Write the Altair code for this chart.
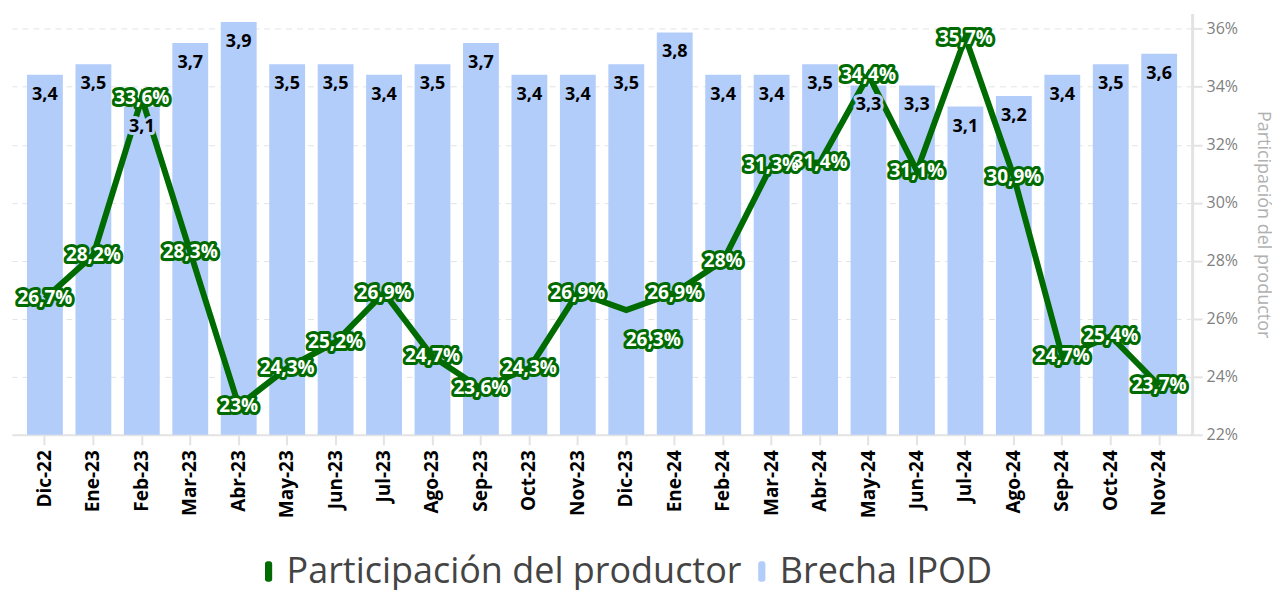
import altair as alt
import pandas as pd

meses = ["Dic-22", "Ene-23", "Feb-23", "Mar-23", "Abr-23", "May-23", "Jun-23", "Jul-23",
         "Ago-23", "Sep-23", "Oct-23", "Nov-23", "Dic-23", "Ene-24", "Feb-24", "Mar-24",
         "Abr-24", "May-24", "Jun-24", "Jul-24", "Ago-24", "Sep-24", "Oct-24", "Nov-24"]
brecha = [3.4, 3.5, 3.1, 3.7, 3.9, 3.5, 3.5, 3.4, 3.5, 3.7, 3.4, 3.4,
          3.5, 3.8, 3.4, 3.4, 3.5, 3.3, 3.3, 3.1, 3.2, 3.4, 3.5, 3.6]
participacion = [26.7, 28.2, 33.6, 28.3, 23.0, 24.3, 25.2, 26.9, 24.7, 23.6, 24.3, 26.9,
                 26.3, 26.9, 28.0, 31.3, 31.4, 34.4, 31.1, 35.7, 30.9, 24.7, 25.4, 23.7]
ticks_pct = [22, 24, 26, 28, 30, 32, 34, 36]
series = ["Participación del productor", "Brecha IPOD"]

GREEN = "#006b00"
BLUE = "#b3cdfb"
FONT = "Open Sans"

df = pd.DataFrame({"mes": meses, "brecha": brecha, "part": participacion})

x = alt.X(
    "mes:N", sort=meses, title=None,
    scale=alt.Scale(paddingInner=0.26, paddingOuter=0.31),
    axis=alt.Axis(labelAngle=-90, labelFontWeight="bold", labelFontSize=19, labelColor="#000",
                  labelFont=FONT, domainColor="#e3e3e3", domainWidth=2, tickColor="#e3e3e3",
                  tickWidth=2, tickSize=10, labelPadding=5, labelBaseline="middle", labelAlign="right"),
)

ybar_scale = alt.Scale(domain=[0, 3.98], nice=False, zero=True)
yline_scale = alt.Scale(domain=[22, 36.53], nice=False, zero=False)

base = alt.Chart(df)

bars = base.mark_bar().transform_calculate(serie="'Brecha IPOD'").encode(
    x=x,
    y=alt.Y("brecha:Q", scale=ybar_scale, axis=None),
    color=alt.Color(
        "serie:N",
        scale=alt.Scale(domain=series, range=[GREEN, BLUE]),
        legend=alt.Legend(
            title=None, orient="none", direction="horizontal", legendX=239, legendY=541,
            symbolType="M-0.35,-0.75 A0.25,0.25 0 0 1 -0.1,-1 L0.1,-1 A0.25,0.25 0 0 1 0.35,-0.75 L0.35,0.75 A0.25,0.25 0 0 1 0.1,1 L-0.1,1 A0.25,0.25 0 0 1 -0.35,0.75 Z",
            symbolSize=420, symbolStrokeWidth=0, labelFontSize=36, labelFont=FONT,
            labelColor="#444", columnPadding=2, labelOffset=0, labelLimit=600,
        ),
    ),
)

bar_lab = "replace(format(datum.brecha, '.1f'), '.', ',')"

bar_halo = base.mark_text(dy=20, fontWeight="bold", fontSize=18, font=FONT, fill=BLUE, stroke=BLUE,
                          strokeWidth=6, strokeJoin="round").transform_calculate(lab=bar_lab).encode(
    x=x,
    y=alt.Y("brecha:Q", scale=ybar_scale, axis=None),
    text="lab:N",
)

bar_text = base.mark_text(dy=20, fontWeight="bold", fontSize=18, font=FONT, color="#000").transform_calculate(
    lab=bar_lab
).encode(
    x=x,
    y=alt.Y("brecha:Q", scale=ybar_scale, axis=None),
    text="lab:N",
)

line = base.mark_line(color=GREEN, strokeWidth=6).encode(
    x=x,
    y=alt.Y(
        "part:Q", scale=yline_scale,
        axis=alt.Axis(
            orient="right", values=ticks_pct, labelExpr="datum.value + '%'",
            title="Participación del productor", titleColor="#b0b0b0", titleFontSize=18,
            titleFont=FONT, titleFontWeight="normal", titlePadding=16,
            labelColor="#808080", labelFontSize=16, labelFont=FONT,
            domainColor="#e3e3e3", domainWidth=3, tickColor="#e3e3e3", tickWidth=2, tickSize=10,
            grid=True, gridColor="#e3e3e3", gridDash=[6, 5], labelPadding=4,
        ),
    ),
)

lab_expr = "replace(format(datum.part, '.1~f'), '.', ',') + '%'"
shift_x = alt.ExprRef(expr="datum.mes == 'Dic-23' ? 27 : 0")
shift_y = alt.ExprRef(expr="datum.mes == 'Dic-23' ? 30 : 0")

outline = base.mark_text(fontWeight="bold", fontSize=19, font=FONT, fill=GREEN, stroke=GREEN,
                         strokeWidth=6, strokeJoin="round", dx=shift_x, dy=shift_y).transform_calculate(
    lab=lab_expr
).encode(
    x=x,
    y=alt.Y("part:Q", scale=yline_scale, axis=None),
    text="lab:N",
)

white = base.mark_text(fontWeight="bold", fontSize=19, font=FONT, color="#ffffff",
                       dx=shift_x, dy=shift_y).transform_calculate(
    lab=lab_expr
).encode(
    x=x,
    y=alt.Y("part:Q", scale=yline_scale, axis=None),
    text="lab:N",
)

chart = alt.layer(bars, line, bar_halo, bar_text, outline, white).resolve_scale(y="independent").properties(
    width=1182, height=422, padding={"left": 4, "top": 5, "right": 0, "bottom": 0},
).configure_view(stroke=None)

chart.save("out.html", embed_options={"renderer": "svg", "actions": False})
